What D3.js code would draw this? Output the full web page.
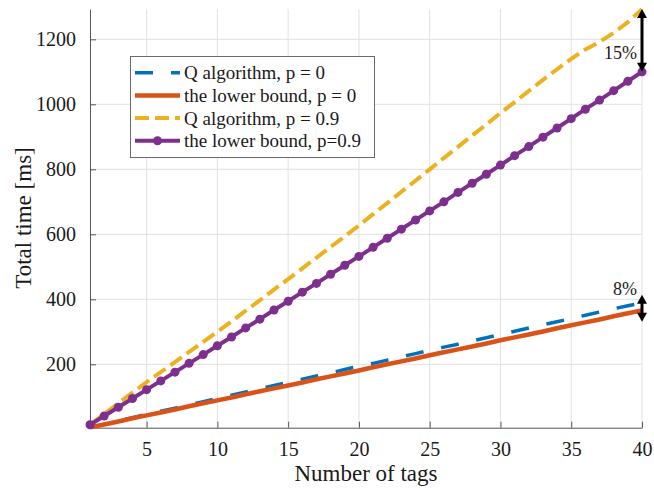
<!DOCTYPE html>
<html lang="en">
<head>
  <meta charset="UTF-8" />
  <title>Total time vs number of tags</title>
  <script src="https://d3js.org/d3.v7.min.js"></script>
  <style>
    body { margin: 0; background: #fff; }
    text { font-family: "Liberation Serif", "Times New Roman", serif; fill: #1a1a1a; }
    .axis path, .axis line { stroke: #555; }
    .axis text { font-size: 20px; fill: #1a1a1a; }
  </style>
</head>
<body>
<div id="chart"></div>
<script>
  /*****************************************************************
   * Data
   *****************************************************************/
  const tags = d3.range(1, 41);

  const qAlgP0 = [6, 16, 26, 36, 46, 56, 65, 75, 85, 95, 105, 115, 125, 135, 144, 154, 164, 174, 184, 194,
                  203, 213, 223, 233, 243, 253, 262, 272, 282, 292, 302, 312, 322, 331, 341, 351, 361, 371, 380, 389];
  const lowerP0  = [6, 15, 24, 34, 43, 52, 61, 71, 80, 89, 98, 108, 117, 126, 135, 144, 154, 163, 172, 181,
                  191, 200, 209, 218, 228, 237, 246, 255, 264, 274, 283, 292, 301, 311, 320, 329, 338, 348, 357, 366];
  const qAlgP09 = [14, 47, 80, 113, 145, 176, 207, 238, 269, 300, 332, 365, 397, 430, 462, 495, 528, 561, 594, 627,
                  662, 696, 731, 765, 800, 835, 869, 904, 938, 973, 1007, 1041, 1075, 1108, 1140, 1169, 1192, 1220, 1253, 1293];
  const lowerP09 = [14, 41, 68, 95, 122, 149, 176, 203, 230, 257, 284, 312, 339, 367, 394, 422, 449, 477, 505, 532,
                  560, 588, 616, 644, 672, 700, 729, 757, 785, 813, 842, 870, 899, 927, 956, 985, 1013, 1042, 1071, 1100];

  const seriesNames = ["Q algorithm, p = 0", "the lower bound, p = 0", "Q algorithm, p = 0.9", "the lower bound, p=0.9"];
  const xTicks = [5, 10, 15, 20, 25, 30, 35, 40];
  const yTicks = [200, 400, 600, 800, 1000, 1200];

  // gap annotations at the last tag
  const gapNotes = [
    { x: 40, lo: 1100, hi: 1293, label: "15%", labelAt: 1140 },
    { x: 40, lo: 331, hi: 414, label: "8%", labelAt: 413 }
  ];

  /*****************************************************************
   * Layout
   *****************************************************************/
  const width = 654, height = 489;
  const x = d3.scaleLinear().domain([1, 40]).range([90, 642]);
  const y = d3.scaleLinear().domain([5, 1293]).range([427.7, 9.1]);

  const svg = d3.select("#chart").append("svg")
    .attr("width", width).attr("height", height);

  // grid
  svg.append("g").selectAll("line").data(xTicks).join("line")
    .attr("x1", d => x(d)).attr("x2", d => x(d))
    .attr("y1", y.range()[0]).attr("y2", y.range()[1])
    .attr("stroke", "#e1e1e1").attr("stroke-width", 1);
  svg.append("g").selectAll("line").data(yTicks).join("line")
    .attr("x1", x.range()[0]).attr("x2", x.range()[1])
    .attr("y1", d => y(d)).attr("y2", d => y(d))
    .attr("stroke", "#e1e1e1").attr("stroke-width", 1);

  // axes (ticks inside, box off)
  svg.append("g").attr("class", "axis")
    .attr("transform", `translate(0,${y.range()[0]})`)
    .call(d3.axisBottom(x).tickValues(xTicks).tickSizeInner(-6).tickSizeOuter(0)
      .tickPadding(14).tickFormat(d3.format("d")));
  svg.append("g").attr("class", "axis")
    .attr("transform", `translate(${x.range()[0]},0)`)
    .call(d3.axisLeft(y).tickValues(yTicks).tickSizeInner(-6).tickSizeOuter(0)
      .tickPadding(14).tickFormat(d3.format("d")));

  svg.append("text")
    .attr("x", 366).attr("y", 481)
    .attr("text-anchor", "middle").attr("font-size", 23)
    .text("Number of tags");
  svg.append("text")
    .attr("transform", "translate(31,218) rotate(-90)")
    .attr("text-anchor", "middle").attr("font-size", 23)
    .text("Total time [ms]");

  /*****************************************************************
   * Lines
   *****************************************************************/
  const styles = [
    { values: qAlgP0,  color: "#0072BD", width: 3.5, dash: "18,18", marker: false },
    { values: lowerP0, color: "#D95319", width: 4.5, dash: null,    marker: false },
    { values: qAlgP09, color: "#EDB120", width: 4,   dash: "14,6",  marker: false },
    { values: lowerP09, color: "#7E2F8E", width: 4,  dash: null,    marker: true }
  ];

  const line = d3.line().x((d, i) => x(tags[i])).y(d => y(d));

  styles.forEach(s => {
    svg.append("path")
      .attr("d", line(s.values))
      .attr("fill", "none")
      .attr("stroke", s.color)
      .attr("stroke-width", s.width)
      .attr("stroke-dasharray", s.dash);
    if (s.marker) {
      svg.append("g").selectAll("circle").data(s.values).join("circle")
        .attr("cx", (d, i) => x(tags[i])).attr("cy", d => y(d))
        .attr("r", 4.5).attr("fill", s.color);
    }
  });

  /*****************************************************************
   * Gap arrows
   *****************************************************************/
  const head = 9, half = 5;
  gapNotes.forEach(n => {
    const cx = x(n.x), top = y(n.hi), bot = y(n.lo);
    const g = svg.append("g");
    g.append("line").attr("x1", cx).attr("x2", cx)
      .attr("y1", top + head - 1).attr("y2", bot - head + 1)
      .attr("stroke", "#000").attr("stroke-width", 3);
    g.append("path")
      .attr("d", `M${cx},${top} L${cx - half},${top + head} L${cx + half},${top + head} Z`)
      .attr("fill", "#000");
    g.append("path")
      .attr("d", `M${cx},${bot} L${cx - half},${bot - head} L${cx + half},${bot - head} Z`)
      .attr("fill", "#000");
    g.append("text").attr("x", cx - 5).attr("y", y(n.labelAt)).attr("text-anchor", "end")
      .attr("font-size", 18).text(n.label);
  });

  /*****************************************************************
   * Legend
   *****************************************************************/
  const legend = svg.append("g");
  legend.append("rect")
    .attr("x", 130.5).attr("y", 56.5).attr("width", 244).attr("height", 101)
    .attr("fill", "#fff").attr("stroke", "#6a6a6a").attr("stroke-width", 1);

  styles.forEach((s, i) => {
    const ly = 72.7 + i * 22.7;
    legend.append("line")
      .attr("x1", 135).attr("x2", 180).attr("y1", ly).attr("y2", ly)
      .attr("stroke", s.color).attr("stroke-width", s.width)
      .attr("stroke-dasharray", s.dash);
    if (s.marker) {
      legend.append("circle").attr("cx", 157.5).attr("cy", ly).attr("r", 4.5).attr("fill", s.color);
    }
    legend.append("text")
      .attr("x", 184).attr("y", ly).attr("dy", "0.35em")
      .attr("font-size", 19)
      .text(seriesNames[i]);
  });
</script>
</body>
</html>
